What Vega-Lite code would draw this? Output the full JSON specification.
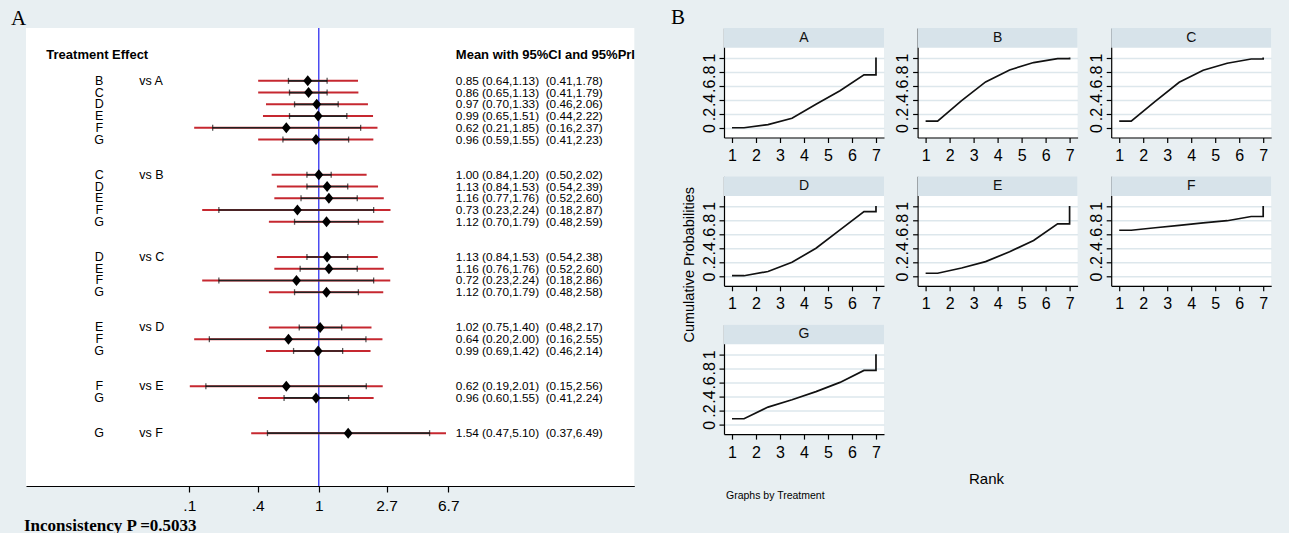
{
"$schema": "https://vega.github.io/schema/vega-lite/v6.json",
"background": "#e8eff2",
"padding": {"left": 11, "top": 7, "right": 17, "bottom": 0},
"spacing": 36,
"datasets": {
"forest": [
{"key":"A:B","trt":"B","vs":"vs A","m":0.85,"lo":0.64,"hi":1.13,"plo":0.41,"phi":1.78,"txt":"0.85 (0.64,1.13)\u00a0 (0.41,1.78)"},
{"key":"A:C","trt":"C","vs":"","m":0.86,"lo":0.65,"hi":1.13,"plo":0.41,"phi":1.79,"txt":"0.86 (0.65,1.13)\u00a0 (0.41,1.79)"},
{"key":"A:D","trt":"D","vs":"","m":0.97,"lo":0.70,"hi":1.33,"plo":0.46,"phi":2.06,"txt":"0.97 (0.70,1.33)\u00a0 (0.46,2.06)"},
{"key":"A:E","trt":"E","vs":"","m":0.99,"lo":0.65,"hi":1.51,"plo":0.44,"phi":2.22,"txt":"0.99 (0.65,1.51)\u00a0 (0.44,2.22)"},
{"key":"A:F","trt":"F","vs":"","m":0.62,"lo":0.21,"hi":1.85,"plo":0.16,"phi":2.37,"txt":"0.62 (0.21,1.85)\u00a0 (0.16,2.37)"},
{"key":"A:G","trt":"G","vs":"","m":0.96,"lo":0.59,"hi":1.55,"plo":0.41,"phi":2.23,"txt":"0.96 (0.59,1.55)\u00a0 (0.41,2.23)"},
{"key":"B:C","trt":"C","vs":"vs B","m":1.00,"lo":0.84,"hi":1.20,"plo":0.50,"phi":2.02,"txt":"1.00 (0.84,1.20)\u00a0 (0.50,2.02)"},
{"key":"B:D","trt":"D","vs":"","m":1.13,"lo":0.84,"hi":1.53,"plo":0.54,"phi":2.39,"txt":"1.13 (0.84,1.53)\u00a0 (0.54,2.39)"},
{"key":"B:E","trt":"E","vs":"","m":1.16,"lo":0.77,"hi":1.76,"plo":0.52,"phi":2.60,"txt":"1.16 (0.77,1.76)\u00a0 (0.52,2.60)"},
{"key":"B:F","trt":"F","vs":"","m":0.73,"lo":0.23,"hi":2.24,"plo":0.18,"phi":2.87,"txt":"0.73 (0.23,2.24)\u00a0 (0.18,2.87)"},
{"key":"B:G","trt":"G","vs":"","m":1.12,"lo":0.70,"hi":1.79,"plo":0.48,"phi":2.59,"txt":"1.12 (0.70,1.79)\u00a0 (0.48,2.59)"},
{"key":"C:D","trt":"D","vs":"vs C","m":1.13,"lo":0.84,"hi":1.53,"plo":0.54,"phi":2.38,"txt":"1.13 (0.84,1.53)\u00a0 (0.54,2.38)"},
{"key":"C:E","trt":"E","vs":"","m":1.16,"lo":0.76,"hi":1.76,"plo":0.52,"phi":2.60,"txt":"1.16 (0.76,1.76)\u00a0 (0.52,2.60)"},
{"key":"C:F","trt":"F","vs":"","m":0.72,"lo":0.23,"hi":2.24,"plo":0.18,"phi":2.86,"txt":"0.72 (0.23,2.24)\u00a0 (0.18,2.86)"},
{"key":"C:G","trt":"G","vs":"","m":1.12,"lo":0.70,"hi":1.79,"plo":0.48,"phi":2.58,"txt":"1.12 (0.70,1.79)\u00a0 (0.48,2.58)"},
{"key":"D:E","trt":"E","vs":"vs D","m":1.02,"lo":0.75,"hi":1.40,"plo":0.48,"phi":2.17,"txt":"1.02 (0.75,1.40)\u00a0 (0.48,2.17)"},
{"key":"D:F","trt":"F","vs":"","m":0.64,"lo":0.20,"hi":2.00,"plo":0.16,"phi":2.55,"txt":"0.64 (0.20,2.00)\u00a0 (0.16,2.55)"},
{"key":"D:G","trt":"G","vs":"","m":0.99,"lo":0.69,"hi":1.42,"plo":0.46,"phi":2.14,"txt":"0.99 (0.69,1.42)\u00a0 (0.46,2.14)"},
{"key":"E:F","trt":"F","vs":"vs E","m":0.62,"lo":0.19,"hi":2.01,"plo":0.15,"phi":2.56,"txt":"0.62 (0.19,2.01)\u00a0 (0.15,2.56)"},
{"key":"E:G","trt":"G","vs":"","m":0.96,"lo":0.60,"hi":1.55,"plo":0.41,"phi":2.24,"txt":"0.96 (0.60,1.55)\u00a0 (0.41,2.24)"},
{"key":"F:G","trt":"G","vs":"vs F","m":1.54,"lo":0.47,"hi":5.10,"plo":0.37,"phi":6.49,"txt":"1.54 (0.47,5.10)\u00a0 (0.37,6.49)"}
],
"rank": [
{"T":"A","i":1,"Rank":1,"P":0.005},{"T":"A","i":2,"Rank":1.5,"P":0.005},{"T":"A","i":3,"Rank":2.5,"P":0.05},{"T":"A","i":4,"Rank":3.5,"P":0.14},{"T":"A","i":5,"Rank":4.5,"P":0.34},{"T":"A","i":6,"Rank":5.5,"P":0.53},{"T":"A","i":7,"Rank":6.5,"P":0.755},{"T":"A","i":8,"Rank":7,"P":0.755},{"T":"A","i":9,"Rank":7,"P":1},
{"T":"B","i":1,"Rank":1,"P":0.10},{"T":"B","i":2,"Rank":1.5,"P":0.10},{"T":"B","i":3,"Rank":2.5,"P":0.39},{"T":"B","i":4,"Rank":3.5,"P":0.655},{"T":"B","i":5,"Rank":4.5,"P":0.825},{"T":"B","i":6,"Rank":5.5,"P":0.93},{"T":"B","i":7,"Rank":6.5,"P":0.985},{"T":"B","i":8,"Rank":7,"P":0.985},{"T":"B","i":9,"Rank":7,"P":1},
{"T":"C","i":1,"Rank":1,"P":0.10},{"T":"C","i":2,"Rank":1.5,"P":0.10},{"T":"C","i":3,"Rank":2.5,"P":0.38},{"T":"C","i":4,"Rank":3.5,"P":0.65},{"T":"C","i":5,"Rank":4.5,"P":0.82},{"T":"C","i":6,"Rank":5.5,"P":0.92},{"T":"C","i":7,"Rank":6.5,"P":0.98},{"T":"C","i":8,"Rank":7,"P":0.98},{"T":"C","i":9,"Rank":7,"P":1},
{"T":"D","i":1,"Rank":1,"P":0.01},{"T":"D","i":2,"Rank":1.5,"P":0.01},{"T":"D","i":3,"Rank":2.5,"P":0.07},{"T":"D","i":4,"Rank":3.5,"P":0.20},{"T":"D","i":5,"Rank":4.5,"P":0.40},{"T":"D","i":6,"Rank":5.5,"P":0.66},{"T":"D","i":7,"Rank":6.5,"P":0.92},{"T":"D","i":8,"Rank":7,"P":0.92},{"T":"D","i":9,"Rank":7,"P":1},
{"T":"E","i":1,"Rank":1,"P":0.045},{"T":"E","i":2,"Rank":1.5,"P":0.045},{"T":"E","i":3,"Rank":2.5,"P":0.12},{"T":"E","i":4,"Rank":3.5,"P":0.21},{"T":"E","i":5,"Rank":4.5,"P":0.35},{"T":"E","i":6,"Rank":5.5,"P":0.51},{"T":"E","i":7,"Rank":6.5,"P":0.745},{"T":"E","i":8,"Rank":7,"P":0.745},{"T":"E","i":9,"Rank":7,"P":1},
{"T":"F","i":1,"Rank":1,"P":0.655},{"T":"F","i":2,"Rank":1.5,"P":0.655},{"T":"F","i":3,"Rank":2.5,"P":0.69},{"T":"F","i":4,"Rank":3.5,"P":0.725},{"T":"F","i":5,"Rank":4.5,"P":0.76},{"T":"F","i":6,"Rank":5.5,"P":0.79},{"T":"F","i":7,"Rank":6.5,"P":0.85},{"T":"F","i":8,"Rank":7,"P":0.85},{"T":"F","i":9,"Rank":7,"P":1},
{"T":"G","i":1,"Rank":1,"P":0.085},{"T":"G","i":2,"Rank":1.5,"P":0.085},{"T":"G","i":3,"Rank":2.5,"P":0.25},{"T":"G","i":4,"Rank":3.5,"P":0.355},{"T":"G","i":5,"Rank":4.5,"P":0.47},{"T":"G","i":6,"Rank":5.5,"P":0.60},{"T":"G","i":7,"Rank":6.5,"P":0.77},{"T":"G","i":8,"Rank":7,"P":0.77},{"T":"G","i":9,"Rank":7,"P":1}
]
},
"hconcat": [
{
"width": 608.3, "height": 458,
"data": {"name": "forest"},
"title": {"text": "A", "anchor": "start", "frame": "group", "font": "Liberation Serif", "fontSize": 21, "fontWeight": "normal", "baseline": "alphabetic", "offset": -19, "dx": -15},
"layer": [
{"transform": [{"filter": "datum.key == 'A:B'"}], "mark": {"type": "rule", "color": "#1f1fee", "strokeWidth": 1.2},
 "encoding": {"x": {"datum": 1, "type": "quantitative",
   "scale": {"type": "log", "base": 2.718281828459045, "domain": [0.01349, 103.5], "nice": false},
   "axis": {"values": [0.149, 0.4066, 1, 2.71, 6.71],
     "labelExpr": "datum.value < 0.2 ? '.1' : datum.value < 0.6 ? '.4' : datum.value < 1.5 ? '1' : datum.value < 4 ? '2.7' : '6.7'",
     "labelFont": "Liberation Sans", "labelFontSize": 15.5, "labelPadding": 6, "tickSize": 6, "labelOverlap": false,
     "title": "Inconsistency P =0.5033", "titleFont": "Liberation Serif", "titleFontWeight": "bold", "titleFontSize": 17,
     "titleX": -2.5, "titleY": 44, "titleAlign": "left", "titleBaseline": "alphabetic", "titleAnchor": "start"}}}},
{"mark": {"type": "rule", "color": "#c62830", "strokeWidth": 2},
 "encoding": {"x": {"field": "plo", "type": "quantitative"}, "x2": {"field": "phi"},
   "y": {"field": "key", "type": "nominal", "axis": null, "scale": {"type": "point", "padding": 0.5, "domain": ["s-4","s-3","hdr","s-1","A:B","A:C","A:D","A:E","A:F","A:G","s6","s7","B:C","B:D","B:E","B:F","B:G","s13","s14","C:D","C:E","C:F","C:G","s19","s20","D:E","D:F","D:G","s24","s25","E:F","E:G","s28","s29","F:G","s31","s32","s33","s34"]}}}},
{"mark": {"type": "rule", "color": "#222222", "strokeWidth": 1.6},
 "encoding": {"x": {"field": "lo", "type": "quantitative"}, "x2": {"field": "hi"}, "y": {"field": "key", "type": "nominal", "axis": null}}},
{"mark": {"type": "tick", "color": "#111111", "thickness": 1.3, "size": 6},
 "encoding": {"x": {"field": "lo", "type": "quantitative"}, "y": {"field": "key", "type": "nominal", "axis": null}}},
{"mark": {"type": "tick", "color": "#111111", "thickness": 1.3, "size": 6},
 "encoding": {"x": {"field": "hi", "type": "quantitative"}, "y": {"field": "key", "type": "nominal", "axis": null}}},
{"mark": {"type": "point", "shape": "M0,-1.1L0.9,0L0,1.1L-0.9,0Z", "filled": true, "color": "#000000", "size": 100, "opacity": 1},
 "encoding": {"x": {"field": "m", "type": "quantitative"}, "y": {"field": "key", "type": "nominal", "axis": null}}},
{"mark": {"type": "text", "align": "center", "fontSize": 12.5},
 "encoding": {"x": {"datum": 0.0396}, "y": {"field": "key", "type": "nominal", "axis": null}, "text": {"field": "trt"}}},
{"mark": {"type": "text", "align": "left", "fontSize": 12.5},
 "encoding": {"x": {"datum": 0.0714}, "y": {"field": "key", "type": "nominal", "axis": null}, "text": {"field": "vs"}}},
{"mark": {"type": "text", "align": "left", "fontSize": 11.8},
 "encoding": {"x": {"datum": 7.5}, "y": {"field": "key", "type": "nominal", "axis": null}, "text": {"field": "txt"}}},
{"transform": [{"filter": "datum.key == 'A:B'"}], "mark": {"type": "text", "align": "left", "fontSize": 13, "fontWeight": "bold", "dy": -2},
 "encoding": {"x": {"datum": 0.01819}, "y": {"datum": "hdr", "type": "nominal", "axis": null}, "text": {"value": "Treatment Effect"}}},
{"transform": [{"filter": "datum.key == 'A:B'"}], "mark": {"type": "text", "align": "left", "fontSize": 13, "fontWeight": "bold", "dy": -2},
 "encoding": {"x": {"datum": 7.5}, "y": {"datum": "hdr", "type": "nominal", "axis": null}, "text": {"value": "Mean with 95%CI and 95%PrI"}}}
]
},
{
"title": {"text": "B", "anchor": "start", "frame": "group", "font": "Liberation Serif", "fontSize": 21, "fontWeight": "normal", "baseline": "alphabetic", "offset": -17, "dx": -53},
"vconcat": [
{
"title": {"text": "Graphs by Treatment", "orient": "bottom", "anchor": "start", "frame": "group", "font": "Liberation Sans", "fontSize": 10.5, "fontWeight": "normal", "baseline": "top", "offset": 5, "dx": 2},
"columns": 3,
"bounds": "flush",
"spacing": {"row": 38.3, "column": 33.6},
"concat": [
{"width": 160, "height": 109.5, "data": {"name": "rank"}, "transform": [{"filter": "datum.T == 'A'"}],
 "layer": [
  {"mark": {"type": "line", "color": "#111111", "strokeWidth": 1.7},
   "encoding": {"x": {"field": "Rank", "type": "quantitative", "scale": {"domain": [0.666, 7.334], "nice": false, "zero": false}, "axis": {"values": [1,2,3,4,5,6,7], "title": null, "labelFontSize": 16, "tickSize": 5, "labelPadding": 5, "labelOverlap": false}},
    "y": {"field": "P", "type": "quantitative", "scale": {"domain": [-0.133, 1.42], "nice": false, "zero": false}, "axis": {"values": [0,0.2,0.4,0.6,0.8,1], "title": null, "grid": true, "gridColor": "#dde7ec", "gridWidth": 1.5, "labelAngle": -90, "labelAlign": "center", "labelBaseline": "bottom", "labelFontSize": 16, "tickSize": 5, "labelPadding": 2, "labelOverlap": false, "labelExpr": "datum.value == 0 ? '0' : datum.value == 1 ? '1' : '.' + round(datum.value * 10)"}},
    "order": {"field": "i"}}},
  {"transform": [{"filter": "datum.i == 1"}], "mark": {"type": "rect", "color": "#d7e3ea"}, "encoding": {"x": {"datum": 0.666, "axis": {"values": [1,2,3,4,5,6,7], "title": null, "labelFontSize": 16, "tickSize": 5, "labelPadding": 5, "labelOverlap": false}}, "x2": {"datum": 7.334}, "y": {"datum": 1.14, "axis": {"values": [0,0.2,0.4,0.6,0.8,1], "title": null, "grid": true, "gridColor": "#dde7ec", "gridWidth": 1.5, "labelAngle": -90, "labelAlign": "center", "labelBaseline": "bottom", "labelFontSize": 16, "tickSize": 5, "labelPadding": 2, "labelOverlap": false, "labelExpr": "datum.value == 0 ? '0' : datum.value == 1 ? '1' : '.' + round(datum.value * 10)"}}, "y2": {"datum": 1.42}}},
  {"transform": [{"filter": "datum.i == 1"}], "mark": {"type": "text", "fontSize": 14, "color": "#111111"}, "encoding": {"x": {"datum": 4, "axis": {"values": [1,2,3,4,5,6,7], "title": null, "labelFontSize": 16, "tickSize": 5, "labelPadding": 5, "labelOverlap": false}}, "y": {"datum": 1.28, "axis": {"values": [0,0.2,0.4,0.6,0.8,1], "title": null, "grid": true, "gridColor": "#dde7ec", "gridWidth": 1.5, "labelAngle": -90, "labelAlign": "center", "labelBaseline": "bottom", "labelFontSize": 16, "tickSize": 5, "labelPadding": 2, "labelOverlap": false, "labelExpr": "datum.value == 0 ? '0' : datum.value == 1 ? '1' : '.' + round(datum.value * 10)"}}, "text": {"value": "A"}}}
 ]},
{"width": 160, "height": 109.5, "data": {"name": "rank"}, "transform": [{"filter": "datum.T == 'B'"}],
 "layer": [
  {"mark": {"type": "line", "color": "#111111", "strokeWidth": 1.7},
   "encoding": {"x": {"field": "Rank", "type": "quantitative", "scale": {"domain": [0.666, 7.334], "nice": false, "zero": false}, "axis": {"values": [1,2,3,4,5,6,7], "title": null, "labelFontSize": 16, "tickSize": 5, "labelPadding": 5, "labelOverlap": false}},
    "y": {"field": "P", "type": "quantitative", "scale": {"domain": [-0.133, 1.42], "nice": false, "zero": false}, "axis": {"values": [0,0.2,0.4,0.6,0.8,1], "title": null, "grid": true, "gridColor": "#dde7ec", "gridWidth": 1.5, "labelAngle": -90, "labelAlign": "center", "labelBaseline": "bottom", "labelFontSize": 16, "tickSize": 5, "labelPadding": 2, "labelOverlap": false, "labelExpr": "datum.value == 0 ? '0' : datum.value == 1 ? '1' : '.' + round(datum.value * 10)"}},
    "order": {"field": "i"}}},
  {"transform": [{"filter": "datum.i == 1"}], "mark": {"type": "rect", "color": "#d7e3ea"}, "encoding": {"x": {"datum": 0.666, "axis": {"values": [1,2,3,4,5,6,7], "title": null, "labelFontSize": 16, "tickSize": 5, "labelPadding": 5, "labelOverlap": false}}, "x2": {"datum": 7.334}, "y": {"datum": 1.14, "axis": {"values": [0,0.2,0.4,0.6,0.8,1], "title": null, "grid": true, "gridColor": "#dde7ec", "gridWidth": 1.5, "labelAngle": -90, "labelAlign": "center", "labelBaseline": "bottom", "labelFontSize": 16, "tickSize": 5, "labelPadding": 2, "labelOverlap": false, "labelExpr": "datum.value == 0 ? '0' : datum.value == 1 ? '1' : '.' + round(datum.value * 10)"}}, "y2": {"datum": 1.42}}},
  {"transform": [{"filter": "datum.i == 1"}], "mark": {"type": "text", "fontSize": 14, "color": "#111111"}, "encoding": {"x": {"datum": 4, "axis": {"values": [1,2,3,4,5,6,7], "title": null, "labelFontSize": 16, "tickSize": 5, "labelPadding": 5, "labelOverlap": false}}, "y": {"datum": 1.28, "axis": {"values": [0,0.2,0.4,0.6,0.8,1], "title": null, "grid": true, "gridColor": "#dde7ec", "gridWidth": 1.5, "labelAngle": -90, "labelAlign": "center", "labelBaseline": "bottom", "labelFontSize": 16, "tickSize": 5, "labelPadding": 2, "labelOverlap": false, "labelExpr": "datum.value == 0 ? '0' : datum.value == 1 ? '1' : '.' + round(datum.value * 10)"}}, "text": {"value": "B"}}}
 ]},
{"width": 160, "height": 109.5, "data": {"name": "rank"}, "transform": [{"filter": "datum.T == 'C'"}],
 "layer": [
  {"mark": {"type": "line", "color": "#111111", "strokeWidth": 1.7},
   "encoding": {"x": {"field": "Rank", "type": "quantitative", "scale": {"domain": [0.666, 7.334], "nice": false, "zero": false}, "axis": {"values": [1,2,3,4,5,6,7], "title": null, "labelFontSize": 16, "tickSize": 5, "labelPadding": 5, "labelOverlap": false}},
    "y": {"field": "P", "type": "quantitative", "scale": {"domain": [-0.133, 1.42], "nice": false, "zero": false}, "axis": {"values": [0,0.2,0.4,0.6,0.8,1], "title": null, "grid": true, "gridColor": "#dde7ec", "gridWidth": 1.5, "labelAngle": -90, "labelAlign": "center", "labelBaseline": "bottom", "labelFontSize": 16, "tickSize": 5, "labelPadding": 2, "labelOverlap": false, "labelExpr": "datum.value == 0 ? '0' : datum.value == 1 ? '1' : '.' + round(datum.value * 10)"}},
    "order": {"field": "i"}}},
  {"transform": [{"filter": "datum.i == 1"}], "mark": {"type": "rect", "color": "#d7e3ea"}, "encoding": {"x": {"datum": 0.666, "axis": {"values": [1,2,3,4,5,6,7], "title": null, "labelFontSize": 16, "tickSize": 5, "labelPadding": 5, "labelOverlap": false}}, "x2": {"datum": 7.334}, "y": {"datum": 1.14, "axis": {"values": [0,0.2,0.4,0.6,0.8,1], "title": null, "grid": true, "gridColor": "#dde7ec", "gridWidth": 1.5, "labelAngle": -90, "labelAlign": "center", "labelBaseline": "bottom", "labelFontSize": 16, "tickSize": 5, "labelPadding": 2, "labelOverlap": false, "labelExpr": "datum.value == 0 ? '0' : datum.value == 1 ? '1' : '.' + round(datum.value * 10)"}}, "y2": {"datum": 1.42}}},
  {"transform": [{"filter": "datum.i == 1"}], "mark": {"type": "text", "fontSize": 14, "color": "#111111"}, "encoding": {"x": {"datum": 4, "axis": {"values": [1,2,3,4,5,6,7], "title": null, "labelFontSize": 16, "tickSize": 5, "labelPadding": 5, "labelOverlap": false}}, "y": {"datum": 1.28, "axis": {"values": [0,0.2,0.4,0.6,0.8,1], "title": null, "grid": true, "gridColor": "#dde7ec", "gridWidth": 1.5, "labelAngle": -90, "labelAlign": "center", "labelBaseline": "bottom", "labelFontSize": 16, "tickSize": 5, "labelPadding": 2, "labelOverlap": false, "labelExpr": "datum.value == 0 ? '0' : datum.value == 1 ? '1' : '.' + round(datum.value * 10)"}}, "text": {"value": "C"}}}
 ]},
{"width": 160, "height": 109.5, "data": {"name": "rank"}, "transform": [{"filter": "datum.T == 'D'"}],
 "layer": [
  {"mark": {"type": "line", "color": "#111111", "strokeWidth": 1.7},
   "encoding": {"x": {"field": "Rank", "type": "quantitative", "scale": {"domain": [0.666, 7.334], "nice": false, "zero": false}, "axis": {"values": [1,2,3,4,5,6,7], "title": null, "labelFontSize": 16, "tickSize": 5, "labelPadding": 5, "labelOverlap": false}},
    "y": {"field": "P", "type": "quantitative", "scale": {"domain": [-0.133, 1.42], "nice": false, "zero": false}, "axis": {"values": [0,0.2,0.4,0.6,0.8,1], "title": "Cumulative Probabilities", "titleFont": "Liberation Sans", "titleFontSize": 14.5, "titleX": -31, "titleY": 88, "titleAlign": "center", "titleBaseline": "alphabetic", "titleAngle": 270, "grid": true, "gridColor": "#dde7ec", "gridWidth": 1.5, "labelAngle": -90, "labelAlign": "center", "labelBaseline": "bottom", "labelFontSize": 16, "tickSize": 5, "labelPadding": 2, "labelOverlap": false, "labelExpr": "datum.value == 0 ? '0' : datum.value == 1 ? '1' : '.' + round(datum.value * 10)"}},
    "order": {"field": "i"}}},
  {"transform": [{"filter": "datum.i == 1"}], "mark": {"type": "rect", "color": "#d7e3ea"}, "encoding": {"x": {"datum": 0.666, "axis": {"values": [1,2,3,4,5,6,7], "title": null, "labelFontSize": 16, "tickSize": 5, "labelPadding": 5, "labelOverlap": false}}, "x2": {"datum": 7.334}, "y": {"datum": 1.14, "axis": {"values": [0,0.2,0.4,0.6,0.8,1], "title": "Cumulative Probabilities", "titleFont": "Liberation Sans", "titleFontSize": 14.5, "titleX": -31, "titleY": 88, "titleAlign": "center", "titleBaseline": "alphabetic", "titleAngle": 270, "grid": true, "gridColor": "#dde7ec", "gridWidth": 1.5, "labelAngle": -90, "labelAlign": "center", "labelBaseline": "bottom", "labelFontSize": 16, "tickSize": 5, "labelPadding": 2, "labelOverlap": false, "labelExpr": "datum.value == 0 ? '0' : datum.value == 1 ? '1' : '.' + round(datum.value * 10)"}}, "y2": {"datum": 1.42}}},
  {"transform": [{"filter": "datum.i == 1"}], "mark": {"type": "text", "fontSize": 14, "color": "#111111"}, "encoding": {"x": {"datum": 4, "axis": {"values": [1,2,3,4,5,6,7], "title": null, "labelFontSize": 16, "tickSize": 5, "labelPadding": 5, "labelOverlap": false}}, "y": {"datum": 1.28, "axis": {"values": [0,0.2,0.4,0.6,0.8,1], "title": "Cumulative Probabilities", "titleFont": "Liberation Sans", "titleFontSize": 14.5, "titleX": -31, "titleY": 88, "titleAlign": "center", "titleBaseline": "alphabetic", "titleAngle": 270, "grid": true, "gridColor": "#dde7ec", "gridWidth": 1.5, "labelAngle": -90, "labelAlign": "center", "labelBaseline": "bottom", "labelFontSize": 16, "tickSize": 5, "labelPadding": 2, "labelOverlap": false, "labelExpr": "datum.value == 0 ? '0' : datum.value == 1 ? '1' : '.' + round(datum.value * 10)"}}, "text": {"value": "D"}}}
 ]},
{"width": 160, "height": 109.5, "data": {"name": "rank"}, "transform": [{"filter": "datum.T == 'E'"}],
 "layer": [
  {"mark": {"type": "line", "color": "#111111", "strokeWidth": 1.7},
   "encoding": {"x": {"field": "Rank", "type": "quantitative", "scale": {"domain": [0.666, 7.334], "nice": false, "zero": false}, "axis": {"values": [1,2,3,4,5,6,7], "title": null, "labelFontSize": 16, "tickSize": 5, "labelPadding": 5, "labelOverlap": false}},
    "y": {"field": "P", "type": "quantitative", "scale": {"domain": [-0.133, 1.42], "nice": false, "zero": false}, "axis": {"values": [0,0.2,0.4,0.6,0.8,1], "title": null, "grid": true, "gridColor": "#dde7ec", "gridWidth": 1.5, "labelAngle": -90, "labelAlign": "center", "labelBaseline": "bottom", "labelFontSize": 16, "tickSize": 5, "labelPadding": 2, "labelOverlap": false, "labelExpr": "datum.value == 0 ? '0' : datum.value == 1 ? '1' : '.' + round(datum.value * 10)"}},
    "order": {"field": "i"}}},
  {"transform": [{"filter": "datum.i == 1"}], "mark": {"type": "rect", "color": "#d7e3ea"}, "encoding": {"x": {"datum": 0.666, "axis": {"values": [1,2,3,4,5,6,7], "title": null, "labelFontSize": 16, "tickSize": 5, "labelPadding": 5, "labelOverlap": false}}, "x2": {"datum": 7.334}, "y": {"datum": 1.14, "axis": {"values": [0,0.2,0.4,0.6,0.8,1], "title": null, "grid": true, "gridColor": "#dde7ec", "gridWidth": 1.5, "labelAngle": -90, "labelAlign": "center", "labelBaseline": "bottom", "labelFontSize": 16, "tickSize": 5, "labelPadding": 2, "labelOverlap": false, "labelExpr": "datum.value == 0 ? '0' : datum.value == 1 ? '1' : '.' + round(datum.value * 10)"}}, "y2": {"datum": 1.42}}},
  {"transform": [{"filter": "datum.i == 1"}], "mark": {"type": "text", "fontSize": 14, "color": "#111111"}, "encoding": {"x": {"datum": 4, "axis": {"values": [1,2,3,4,5,6,7], "title": null, "labelFontSize": 16, "tickSize": 5, "labelPadding": 5, "labelOverlap": false}}, "y": {"datum": 1.28, "axis": {"values": [0,0.2,0.4,0.6,0.8,1], "title": null, "grid": true, "gridColor": "#dde7ec", "gridWidth": 1.5, "labelAngle": -90, "labelAlign": "center", "labelBaseline": "bottom", "labelFontSize": 16, "tickSize": 5, "labelPadding": 2, "labelOverlap": false, "labelExpr": "datum.value == 0 ? '0' : datum.value == 1 ? '1' : '.' + round(datum.value * 10)"}}, "text": {"value": "E"}}}
 ]},
{"width": 160, "height": 109.5, "data": {"name": "rank"}, "transform": [{"filter": "datum.T == 'F'"}],
 "layer": [
  {"mark": {"type": "line", "color": "#111111", "strokeWidth": 1.7},
   "encoding": {"x": {"field": "Rank", "type": "quantitative", "scale": {"domain": [0.666, 7.334], "nice": false, "zero": false}, "axis": {"values": [1,2,3,4,5,6,7], "title": null, "labelFontSize": 16, "tickSize": 5, "labelPadding": 5, "labelOverlap": false}},
    "y": {"field": "P", "type": "quantitative", "scale": {"domain": [-0.133, 1.42], "nice": false, "zero": false}, "axis": {"values": [0,0.2,0.4,0.6,0.8,1], "title": null, "grid": true, "gridColor": "#dde7ec", "gridWidth": 1.5, "labelAngle": -90, "labelAlign": "center", "labelBaseline": "bottom", "labelFontSize": 16, "tickSize": 5, "labelPadding": 2, "labelOverlap": false, "labelExpr": "datum.value == 0 ? '0' : datum.value == 1 ? '1' : '.' + round(datum.value * 10)"}},
    "order": {"field": "i"}}},
  {"transform": [{"filter": "datum.i == 1"}], "mark": {"type": "rect", "color": "#d7e3ea"}, "encoding": {"x": {"datum": 0.666, "axis": {"values": [1,2,3,4,5,6,7], "title": null, "labelFontSize": 16, "tickSize": 5, "labelPadding": 5, "labelOverlap": false}}, "x2": {"datum": 7.334}, "y": {"datum": 1.14, "axis": {"values": [0,0.2,0.4,0.6,0.8,1], "title": null, "grid": true, "gridColor": "#dde7ec", "gridWidth": 1.5, "labelAngle": -90, "labelAlign": "center", "labelBaseline": "bottom", "labelFontSize": 16, "tickSize": 5, "labelPadding": 2, "labelOverlap": false, "labelExpr": "datum.value == 0 ? '0' : datum.value == 1 ? '1' : '.' + round(datum.value * 10)"}}, "y2": {"datum": 1.42}}},
  {"transform": [{"filter": "datum.i == 1"}], "mark": {"type": "text", "fontSize": 14, "color": "#111111"}, "encoding": {"x": {"datum": 4, "axis": {"values": [1,2,3,4,5,6,7], "title": null, "labelFontSize": 16, "tickSize": 5, "labelPadding": 5, "labelOverlap": false}}, "y": {"datum": 1.28, "axis": {"values": [0,0.2,0.4,0.6,0.8,1], "title": null, "grid": true, "gridColor": "#dde7ec", "gridWidth": 1.5, "labelAngle": -90, "labelAlign": "center", "labelBaseline": "bottom", "labelFontSize": 16, "tickSize": 5, "labelPadding": 2, "labelOverlap": false, "labelExpr": "datum.value == 0 ? '0' : datum.value == 1 ? '1' : '.' + round(datum.value * 10)"}}, "text": {"value": "F"}}}
 ]},
{"width": 160, "height": 109.5, "data": {"name": "rank"}, "transform": [{"filter": "datum.T == 'G'"}],
 "layer": [
  {"mark": {"type": "line", "color": "#111111", "strokeWidth": 1.7},
   "encoding": {"x": {"field": "Rank", "type": "quantitative", "scale": {"domain": [0.666, 7.334], "nice": false, "zero": false}, "axis": {"values": [1,2,3,4,5,6,7], "title": "Rank", "titleFont": "Liberation Sans", "titleFontSize": 15, "titleX": 262, "titleY": 49, "titleAlign": "center", "titleBaseline": "alphabetic", "labelFontSize": 16, "tickSize": 5, "labelPadding": 5, "labelOverlap": false}},
    "y": {"field": "P", "type": "quantitative", "scale": {"domain": [-0.133, 1.42], "nice": false, "zero": false}, "axis": {"values": [0,0.2,0.4,0.6,0.8,1], "title": null, "grid": true, "gridColor": "#dde7ec", "gridWidth": 1.5, "labelAngle": -90, "labelAlign": "center", "labelBaseline": "bottom", "labelFontSize": 16, "tickSize": 5, "labelPadding": 2, "labelOverlap": false, "labelExpr": "datum.value == 0 ? '0' : datum.value == 1 ? '1' : '.' + round(datum.value * 10)"}},
    "order": {"field": "i"}}},
  {"transform": [{"filter": "datum.i == 1"}], "mark": {"type": "rect", "color": "#d7e3ea"}, "encoding": {"x": {"datum": 0.666, "axis": {"values": [1,2,3,4,5,6,7], "title": "Rank", "titleFont": "Liberation Sans", "titleFontSize": 15, "titleX": 262, "titleY": 49, "titleAlign": "center", "titleBaseline": "alphabetic", "labelFontSize": 16, "tickSize": 5, "labelPadding": 5, "labelOverlap": false}}, "x2": {"datum": 7.334}, "y": {"datum": 1.14, "axis": {"values": [0,0.2,0.4,0.6,0.8,1], "title": null, "grid": true, "gridColor": "#dde7ec", "gridWidth": 1.5, "labelAngle": -90, "labelAlign": "center", "labelBaseline": "bottom", "labelFontSize": 16, "tickSize": 5, "labelPadding": 2, "labelOverlap": false, "labelExpr": "datum.value == 0 ? '0' : datum.value == 1 ? '1' : '.' + round(datum.value * 10)"}}, "y2": {"datum": 1.42}}},
  {"transform": [{"filter": "datum.i == 1"}], "mark": {"type": "text", "fontSize": 14, "color": "#111111"}, "encoding": {"x": {"datum": 4, "axis": {"values": [1,2,3,4,5,6,7], "title": "Rank", "titleFont": "Liberation Sans", "titleFontSize": 15, "titleX": 262, "titleY": 49, "titleAlign": "center", "titleBaseline": "alphabetic", "labelFontSize": 16, "tickSize": 5, "labelPadding": 5, "labelOverlap": false}}, "y": {"datum": 1.28, "axis": {"values": [0,0.2,0.4,0.6,0.8,1], "title": null, "grid": true, "gridColor": "#dde7ec", "gridWidth": 1.5, "labelAngle": -90, "labelAlign": "center", "labelBaseline": "bottom", "labelFontSize": 16, "tickSize": 5, "labelPadding": 2, "labelOverlap": false, "labelExpr": "datum.value == 0 ? '0' : datum.value == 1 ? '1' : '.' + round(datum.value * 10)"}}, "text": {"value": "G"}}}
 ]}
]
}
]
}
],
"config": {
"view": {"stroke": null, "fill": "white"},
"axis": {"zindex": 0, "domainColor": "#000000", "tickColor": "#000000", "labelColor": "#000000", "titleColor": "#000000", "grid": false, "labelFont": "Liberation Sans", "titleFontWeight": "normal", "domainWidth": 1.2, "tickWidth": 1.2, "labelOverlap": false},
"title": {"color": "#000000"},
"text": {"font": "Liberation Sans", "color": "#000000"}
}
}
